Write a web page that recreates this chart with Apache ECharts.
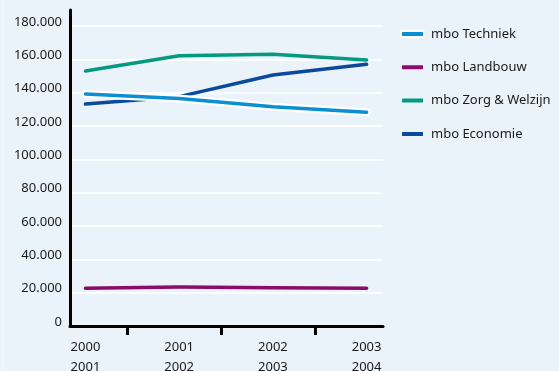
<!DOCTYPE html>
<html>
<head>
<meta charset="utf-8">
<script src="https://cdn.jsdelivr.net/npm/echarts@6/dist/echarts.min.js"></script>
<style>
  html, body { margin: 0; padding: 0; background: #eaf2fa; }
  #chart { width: 559px; height: 371px; }
</style>
</head>
<body>
<div id="chart"></div>
<script>
// School years on the horizontal axis (two-line labels)
const periods = ['2000\n2001', '2001\n2002', '2002\n2003', '2003\n2004'];

// Student counts per mbo sector
const techniek  = [139200, 136500, 131500, 128300];
const landbouw  = [22700, 23400, 23000, 22700];
const zorg      = [153000, 162200, 163000, 159600];
const economie  = [133200, 137600, 150600, 157000];

// Value axis ticks
const yTicks = [0, 20000, 40000, 60000, 80000, 100000, 120000, 140000, 160000, 180000];
// Tick marks sit between the school years
const xTickMarks = [0.45, 1.45, 2.45];

const fmt = v => v === 0 ? '0' : String(v).replace(/\B(?=(\d{3})+(?!\d))/g, '.');
const pts = arr => arr.map((v, i) => [i, v]);

const FONT = 'Noto Sans';
const BG = '#eaf2fa';
const colors = {
  techniek: '#0a90d2',
  landbouw: '#8b0a6b',
  zorg: '#059a80',
  economie: '#0a4a9a'
};

const chart = echarts.init(document.getElementById('chart'), null, { renderer: 'canvas' });

const lineBase = {
  type: 'line',
  showSymbol: false,
  symbol: 'none',
  silent: true,
  animation: false
};

chart.setOption({
  backgroundColor: BG,
  textStyle: { fontFamily: FONT },
  graphic: [{
    type: 'line',
    shape: { x1: 3, y1: 0, x2: 3, y2: 371 },
    style: { stroke: '#f6f9fd', lineWidth: 1.5 },
    silent: true
  }],
  grid: { left: 70, right: 176, top: 10, bottom: 45, containLabel: false, outerBoundsMode: 'none' },
  legend: {
    orient: 'vertical',
    left: 400,
    top: 26,
    padding: 0,
    itemWidth: 23,
    itemHeight: 6,
    itemGap: 17.3,
    icon: 'roundRect',
    selectedMode: false,
    textStyle: { fontFamily: FONT, fontSize: 13, color: '#1a1a1a', lineHeight: 16, padding: [0, 0, 0, 2] },
    data: [
      { name: 'mbo Techniek', itemStyle: { color: colors.techniek, borderColor: '#ffffff', borderWidth: 2 } },
      { name: 'mbo Landbouw', itemStyle: { color: colors.landbouw, borderColor: BG, borderWidth: 2 } },
      { name: 'mbo Zorg & Welzijn', itemStyle: { color: colors.zorg, borderColor: BG, borderWidth: 2 } },
      { name: 'mbo Economie', itemStyle: { color: colors.economie, borderColor: BG, borderWidth: 2 } }
    ]
  },
  xAxis: {
    type: 'value',
    min: -0.165,
    max: 3.175,
    axisLine: { show: true, onZero: false, lineStyle: { color: '#000', width: 3 } },
    axisTick: {
      show: true,
      customValues: xTickMarks,
      length: 9,
      lineStyle: { color: '#000', width: 3 }
    },
    axisLabel: {
      customValues: [0, 1, 2, 3],
      formatter: v => periods[Math.round(v)] || '',
      fontFamily: FONT,
      fontSize: 13,
      lineHeight: 19.5,
      color: '#1a1a1a',
      margin: 12
    },
    splitLine: { show: false }
  },
  yAxis: {
    type: 'value',
    min: 0,
    max: 189600,
    axisLine: { show: true, onZero: false, lineStyle: { color: '#000', width: 3 } },
    axisTick: { show: false, customValues: yTicks },
    axisLabel: {
      customValues: yTicks,
      formatter: fmt,
      fontFamily: FONT,
      fontSize: 13,
      color: '#1a1a1a',
      margin: 8,
      verticalAlign: 'bottom',
      lineHeight: 8
    },
    splitLine: { show: true, lineStyle: { color: '#ffffff', width: 1.5 } }
  },
  series: [
    Object.assign({}, lineBase, {
      name: 'mbo Landbouw', data: pts(landbouw), z: 2,
      lineStyle: { color: colors.landbouw, width: 3.5, cap: 'round', join: 'round' },
      itemStyle: { color: colors.landbouw }
    }),
    Object.assign({}, lineBase, {
      name: 'mbo Zorg & Welzijn', data: pts(zorg), z: 2,
      lineStyle: { color: colors.zorg, width: 3.5, cap: 'round', join: 'round' },
      itemStyle: { color: colors.zorg }
    }),
    Object.assign({}, lineBase, {
      name: 'mbo Economie', data: pts(economie), z: 2,
      lineStyle: { color: colors.economie, width: 3.5, cap: 'round', join: 'round' },
      itemStyle: { color: colors.economie }
    }),
    // white outline under the Techniek line
    Object.assign({}, lineBase, {
      name: 'mbo Techniek', data: pts(techniek), z: 3,
      lineStyle: { color: '#ffffff', width: 8, cap: 'round', join: 'round' },
      itemStyle: { color: colors.techniek }
    }),
    Object.assign({}, lineBase, {
      name: 'mbo Techniek', data: pts(techniek), z: 4,
      lineStyle: { color: colors.techniek, width: 3.5, cap: 'round', join: 'round' },
      itemStyle: { color: colors.techniek }
    })
  ]
});
</script>
</body>
</html>
